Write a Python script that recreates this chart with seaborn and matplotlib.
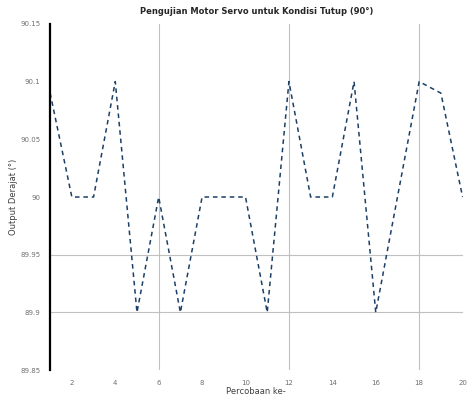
"""Pengujian motor servo - kondisi tutup (90 derajat)"""
import numpy as np
import pandas as pd
import matplotlib
matplotlib.use("Agg")
import matplotlib.pyplot as plt
import seaborn as sns


### data
percobaan = [1, 2, 3, 4, 5, 6, 7, 8, 9, 10, 11, 12, 13, 14, 15, 16, 17, 18, 19, 20]
derajat = [90.09, 90.0, 90.0, 90.1, 89.9, 90.0, 89.9, 90.0, 90.0, 90.0,
           89.9, 90.1, 90.0, 90.0, 90.1, 89.9, 90.0, 90.1, 90.09, 90.0]

x_ticks = [2, 4, 6, 8, 10, 12, 14, 16, 18, 20]
y_ticks = [89.85, 89.9, 89.95, 90.0, 90.05, 90.1, 90.15]
y_tick_labels = ["89.85", "89.9", "89.95", "90", "90.05", "90.1", "90.15"]
x_grid = [6, 12, 18]
y_grid = [89.9, 89.95]

title = "Pengujian Motor Servo untuk Kondisi Tutup (90\u00b0)"
x_label = "Percobaan ke-"
y_label = "Output Derajat (\u00b0)"

data = pd.DataFrame({"percobaan": percobaan, "derajat": derajat})

sns.set_style("white")
plt.rcParams["font.family"] = ["DejaVu Sans"]

fig = plt.figure(figsize=(4.73, 3.98), dpi=100)
ax = fig.add_axes([0.106, 0.07, 0.872, 0.87])

# only a few grid lines are drawn in the original
for gx in x_grid:
    ax.axvline(gx, color="#c0c0c0", lw=0.8, zorder=0)
for gy in y_grid:
    ax.axhline(gy, color="#c0c0c0", lw=0.8, zorder=0)

sns.lineplot(data=data, x="percobaan", y="derajat", ax=ax,
             color="#1c3f66", lw=1.1, linestyle=(0, (3, 2.5)))

ax.set_xlim(1, 20)
ax.set_ylim(89.85, 90.15)
ax.set_xticks(x_ticks)
ax.set_yticks(y_ticks)
ax.set_yticklabels(y_tick_labels)
ax.tick_params(axis="both", labelsize=5, colors="#707070", length=0, pad=7)

for side in ["top", "right", "bottom"]:
    ax.spines[side].set_visible(False)
ax.spines["left"].set_color("black")
ax.spines["left"].set_linewidth(1.6)

ax.set_title(title, fontsize=6, fontweight="bold", pad=7)
ax.set_xlabel(x_label, fontsize=6, color="#404040", labelpad=1)
ax.set_ylabel(y_label, fontsize=6, color="#404040", labelpad=2)

fig.savefig("out.png", dpi=100)
